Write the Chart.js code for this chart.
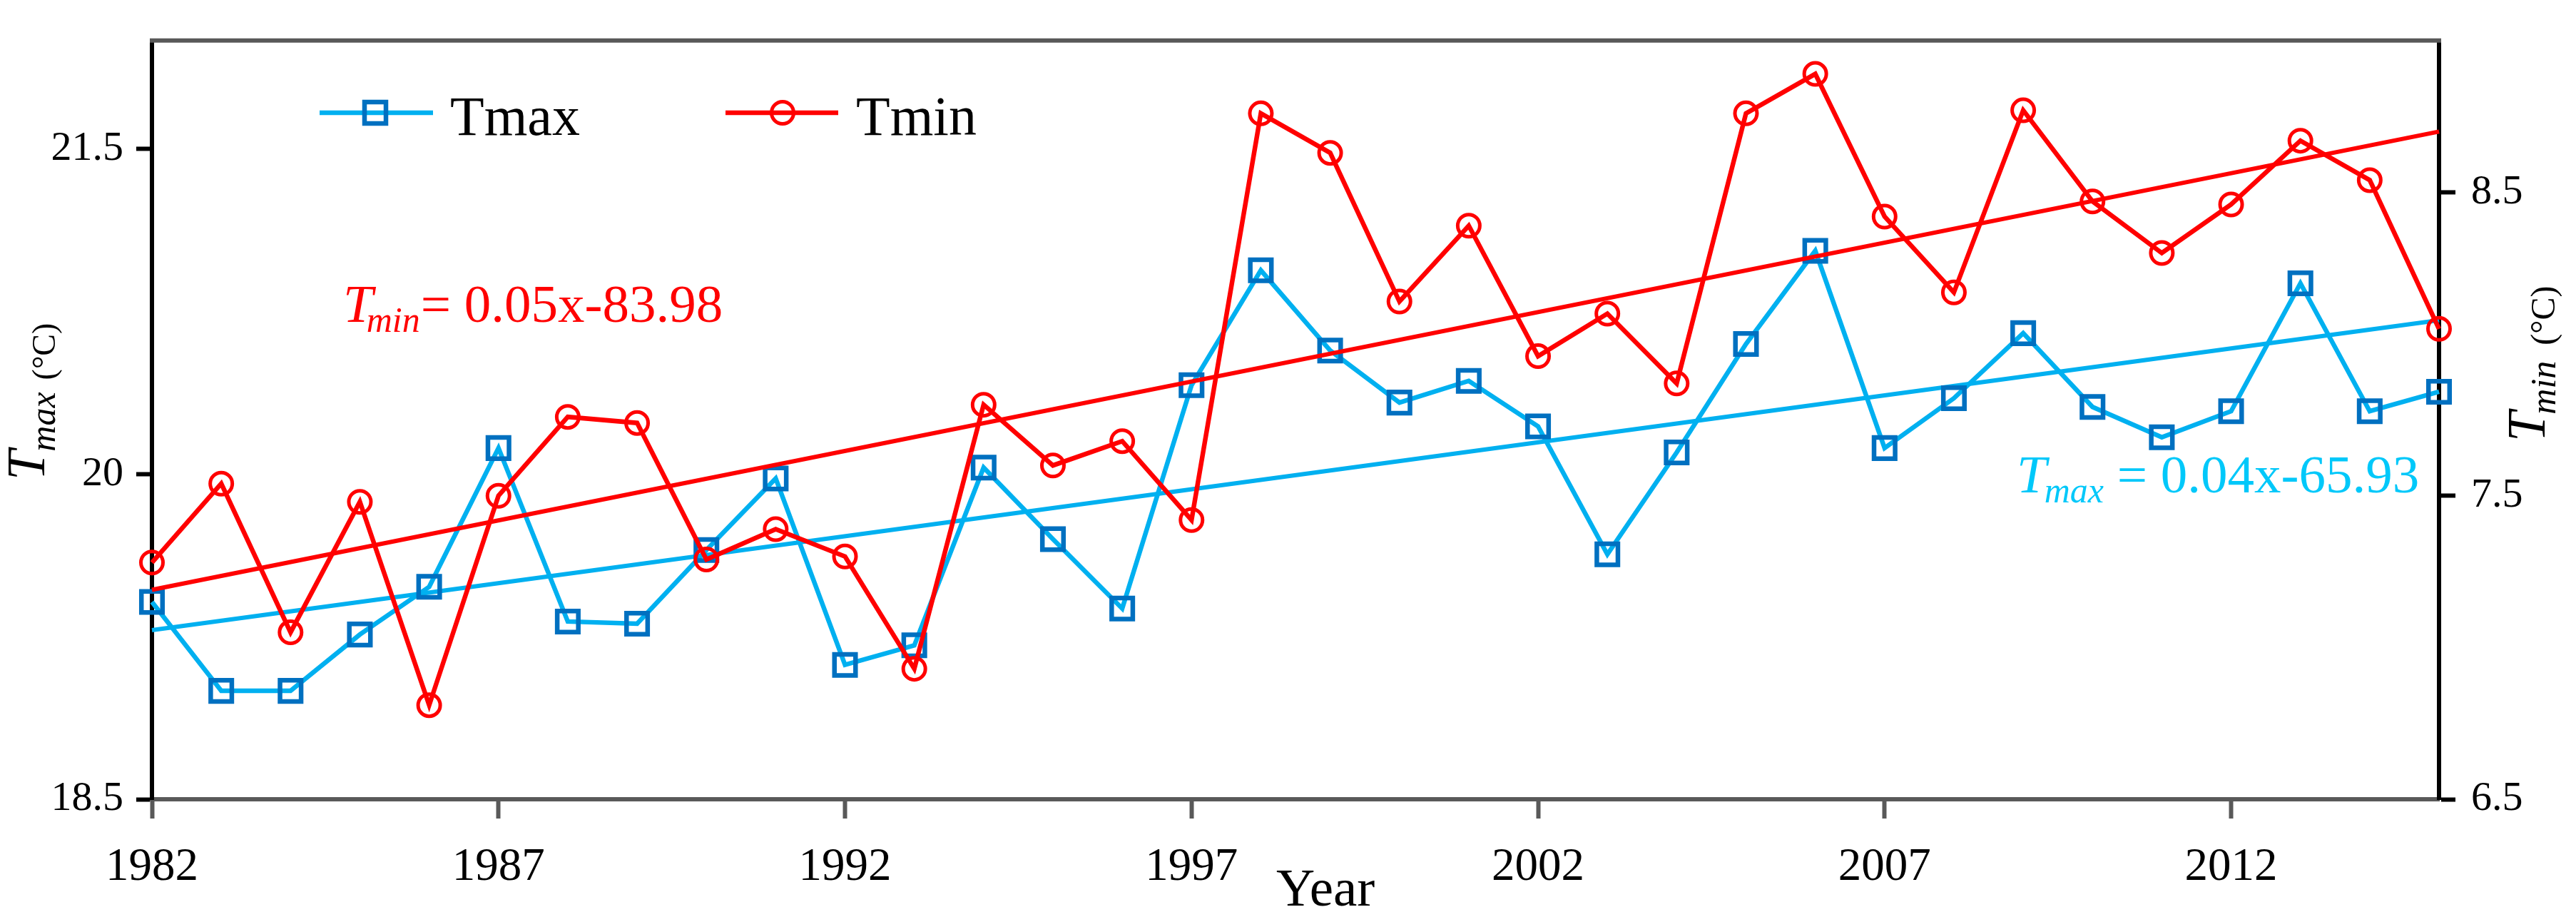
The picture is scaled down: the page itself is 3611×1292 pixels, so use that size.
<!DOCTYPE html>
<html>
<head>
<meta charset="utf-8">
<script src="https://cdn.jsdelivr.net/npm/chart.js@4/dist/chart.umd.min.js"></script>
<style>
  html, body { margin: 0; padding: 0; background: #fff; overflow: hidden; }
  #wrap { width: 3611px; height: 1292px; }
</style>
</head>
<body>
<div id="wrap"><canvas id="temp-chart"></canvas></div>
<script>
const years = [1982, 1983, 1984, 1985, 1986, 1987, 1988, 1989, 1990, 1991, 1992, 1993,
  1994, 1995, 1996, 1997, 1998, 1999, 2000, 2001, 2002, 2003, 2004, 2005, 2006, 2007,
  2008, 2009, 2010, 2011, 2012, 2013, 2014, 2015];
const tmax = [19.41, 19.00, 19.00, 19.26, 19.48, 20.12, 19.32, 19.31, 19.65, 19.98, 19.12, 19.21,
  20.03, 19.70, 19.38, 20.41, 20.94, 20.57, 20.33, 20.43, 20.22, 19.63, 20.10, 20.60, 21.03, 20.12,
  20.35, 20.65, 20.31, 20.17, 20.29, 20.88, 20.29, 20.38];
const tmin = [7.28, 7.54, 7.05, 7.48, 6.81, 7.50, 7.76, 7.74, 7.29, 7.39, 7.30, 6.93,
  7.80, 7.60, 7.68, 7.42, 8.76, 8.63, 8.14, 8.39, 7.96, 8.10, 7.87, 8.76, 8.89, 8.42,
  8.17, 8.77, 8.47, 8.30, 8.46, 8.67, 8.54, 8.05];
// trend lines, read at both ends
const trendYears = [1982, 2015];
const tmaxTrend = [19.28, 20.71];
const tminTrend = [7.19, 8.70];

const yearTicks = [1982, 1987, 1992, 1997, 2002, 2007, 2012];
const tmaxTicks = [18.5, 20, 21.5];
const tminTicks = [6.5, 7.5, 8.5];

const CYAN = "#00B0F0";
const BLUE = "#0070C0";
const RED = "#FF0000";
const GRAY = "#595959";
const SERIF = '"Liberation Serif", "Times New Roman", serif';

const pairs = (xs, ys) => xs.map((x, i) => ({ x: x, y: ys[i] }));

// draws pieces of text one after another (for subscripts)
const richText = (ctx, parts, x, y, angle) => {
  ctx.save();
  ctx.translate(x, y);
  ctx.rotate(angle || 0);
  ctx.textBaseline = "alphabetic";
  ctx.textAlign = "left";
  let cx = 0;
  parts.forEach((p) => {
    ctx.font = p.font;
    ctx.fillStyle = p.color || "#000";
    cx += p.dx || 0;
    ctx.fillText(p.text, cx, p.dy || 0);
    cx += ctx.measureText(p.text).width;
  });
  ctx.restore();
};

const decorations = {
  id: "decorations",
  afterDraw(chart) {
    const ctx = chart.ctx;
    const a = chart.chartArea;
    ctx.save();

    // top frame line
    ctx.strokeStyle = GRAY;
    ctx.lineWidth = 6;
    ctx.beginPath();
    ctx.moveTo(a.left - 3, a.top);
    ctx.lineTo(a.right + 3, a.top);
    ctx.stroke();

    // legend
    ctx.lineWidth = 6.5;
    ctx.strokeStyle = CYAN;
    ctx.beginPath();
    ctx.moveTo(448, 158);
    ctx.lineTo(607, 158);
    ctx.stroke();
    ctx.strokeStyle = BLUE;
    ctx.strokeRect(526 - 15, 158 - 15, 30, 30);
    ctx.strokeStyle = RED;
    ctx.beginPath();
    ctx.moveTo(1017, 158);
    ctx.lineTo(1175, 158);
    ctx.stroke();
    ctx.lineWidth = 5;
    ctx.beginPath();
    ctx.arc(1097, 158, 15.5, 0, Math.PI * 2);
    ctx.stroke();
    ctx.fillStyle = "#000";
    ctx.font = "78px " + SERIF;
    ctx.textBaseline = "alphabetic";
    ctx.fillText("Tmax", 631, 189);
    ctx.fillText("Tmin", 1200, 189);

    // regression labels
    richText(ctx, [
      { text: "T", font: "italic 75px " + SERIF, color: RED },
      { text: "min", font: "italic 50px " + SERIF, color: RED, dy: 14, dx: -9 },
      { text: "= 0.05x-83.98", font: "75px " + SERIF, color: RED, dx: 1 },
    ], 481, 451);
    richText(ctx, [
      { text: "T", font: "italic 75px " + SERIF, color: "#00C8FA" },
      { text: "max", font: "italic 50px " + SERIF, color: "#00C8FA", dy: 14, dx: -3 },
      { text: " = 0.04x-65.93", font: "75px " + SERIF, color: "#00C8FA" },
    ], 2827, 690);

    // axis titles
    richText(ctx, [{ text: "Year", font: "75px " + SERIF }], 1789, 1269);
    richText(ctx, [
      { text: "T", font: "italic 76px " + SERIF },
      { text: "max", font: "italic 50px " + SERIF, dy: 15, dx: -2 },
      { text: "(°C)", font: "46px " + SERIF, dy: 15, dx: 17 },
    ], 62, 673, -Math.PI / 2);
    richText(ctx, [
      { text: "T", font: "italic 76px " + SERIF },
      { text: "min", font: "italic 50px " + SERIF, dy: 15, dx: -4 },
      { text: "(°C)", font: "48px " + SERIF, dy: 14, dx: 22 },
    ], 3567, 619, -Math.PI / 2);

    ctx.restore();
  },
};

const ctx = document.getElementById("temp-chart");

new Chart(ctx, {
  type: "line",
  data: {
    datasets: [
      {
        label: "Tmin",
        data: pairs(years, tmin),
        yAxisID: "y1",
        borderColor: RED,
        borderWidth: 6.5,
        pointStyle: "circle",
        pointRadius: 15.5,
        pointBorderWidth: 5,
        pointBorderColor: RED,
        pointBackgroundColor: "rgba(0,0,0,0)",
        tension: 0,
        clip: false,
      },
      {
        label: "Tmin trend",
        data: pairs(trendYears, tminTrend),
        yAxisID: "y1",
        borderColor: RED,
        borderWidth: 6,
        pointRadius: 0,
        clip: false,
      },
      {
        label: "Tmax",
        data: pairs(years, tmax),
        yAxisID: "y",
        borderColor: CYAN,
        borderWidth: 6.5,
        pointStyle: "rect",
        pointRadius: 20.9,
        pointBorderWidth: 6.5,
        pointBorderColor: BLUE,
        pointBackgroundColor: "rgba(0,0,0,0)",
        tension: 0,
        clip: false,
      },
      {
        label: "Tmax trend",
        data: pairs(trendYears, tmaxTrend),
        yAxisID: "y",
        borderColor: CYAN,
        borderWidth: 6,
        pointRadius: 0,
        clip: false,
      },
    ],
  },
  options: {
    responsive: true,
    maintainAspectRatio: false,
    devicePixelRatio: 1,
    animation: false,
    layout: { padding: { top: 22, left: 0, right: 0, bottom: 0 } },
    plugins: {
      legend: { display: false },
      tooltip: { enabled: false },
    },
    scales: {
      x: {
        type: "linear",
        position: "bottom",
        min: 1982,
        max: 2015,
        afterBuildTicks: (s) => { s.ticks = yearTicks.map((v) => ({ value: v })); },
        afterFit: (s) => { s.height = 172; },
        ticks: {
          callback: (v) => String(v),
          color: "#000",
          font: { family: SERIF, size: 65 },
          padding: 30,
          maxRotation: 0,
          autoSkip: false,
        },
        grid: {
          drawOnChartArea: false,
          drawTicks: true,
          tickLength: 27,
          tickWidth: 6,
          tickColor: GRAY,
        },
        border: { display: true, color: GRAY, width: 6 },
      },
      y: {
        position: "left",
        min: 18.5,
        max: 22,
        afterBuildTicks: (s) => { s.ticks = tmaxTicks.map((v) => ({ value: v })); },
        afterFit: (s) => { s.width = 213; },
        ticks: {
          callback: (v) => String(v),
          color: "#000",
          font: { family: SERIF, size: 58 },
          padding: 18,
        },
        grid: {
          drawOnChartArea: false,
          drawTicks: true,
          tickLength: 22,
          tickWidth: 6,
          tickColor: "#000",
        },
        border: { display: true, color: "#000", width: 6 },
      },
      y1: {
        position: "right",
        min: 6.5,
        max: 9,
        afterBuildTicks: (s) => { s.ticks = tminTicks.map((v) => ({ value: v })); },
        afterFit: (s) => { s.width = 192; },
        ticks: {
          callback: (v) => String(v),
          color: "#000",
          font: { family: SERIF, size: 58 },
          padding: 22,
        },
        grid: {
          drawOnChartArea: false,
          drawTicks: true,
          tickLength: 23,
          tickWidth: 6,
          tickColor: "#000",
        },
        border: { display: true, color: "#000", width: 6 },
      },
    },
  },
  plugins: [decorations],
});
</script>
</body>
</html>
